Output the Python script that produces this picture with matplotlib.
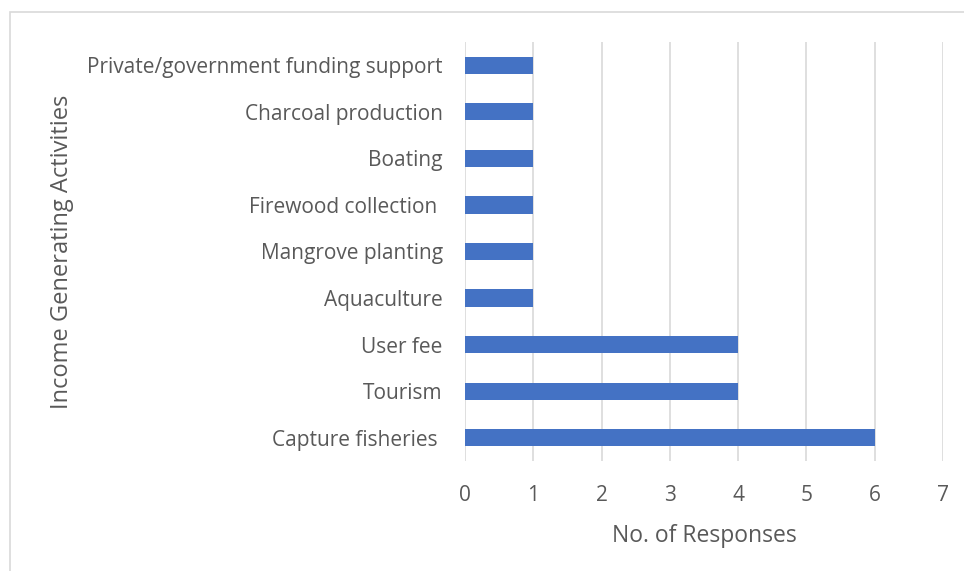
import matplotlib
matplotlib.use("Agg")
import matplotlib.pyplot as plt
from matplotlib.patches import Rectangle

categories = ["Capture fisheries ", "Tourism", "User fee", "Aquaculture", "Mangrove planting",
              "Firewood collection ", "Boating", "Charcoal production",
              "Private/government funding support"]
values = [6, 4, 4, 1, 1, 1, 1, 1, 1]
xticks = [0, 1, 2, 3, 4, 5, 6, 7]

plt.rcParams['font.family'] = ['Open Sans', 'DejaVu Sans']
txt = '#595959'

fig = plt.figure(figsize=(9.64, 5.71), dpi=100)
ax = fig.add_axes([465/964, 1-461/571, (943-465)/964, (461-42)/571])

fig.patches.append(Rectangle((10/964, -0.1), 1.0, 1-12/571+0.1, transform=fig.transFigure,
                             fill=False, edgecolor='#d9d9d9', linewidth=1.2))

y = list(range(len(categories)))
ax.barh(y, values, height=0.37, color='#4472c4', zorder=3)
ax.set_ylim(-0.5, len(categories)-0.5)
ax.set_xlim(0, 7)
ax.set_xticks(xticks)
ax.set_xticklabels([str(t) for t in xticks], fontsize=15, color=txt)
ax.set_yticks(y)
ax.set_yticklabels(categories, fontsize=15, color=txt)
ax.tick_params(axis='both', length=0)
ax.tick_params(axis='x', pad=17)
ax.tick_params(axis='y', pad=16)
ax.grid(axis='x', color='#d9d9d9', linewidth=1.2, zorder=0)
for s in ax.spines.values():
    s.set_visible(False)
ax.set_xlabel("No. of Responses", fontsize=16.5, color=txt, labelpad=13)
fig.text(62/964, 1-252/571, "Income Generating Activities", rotation=90, fontsize=17,
         color=txt, ha='center', va='center')

fig.savefig("out.png", dpi=100)
